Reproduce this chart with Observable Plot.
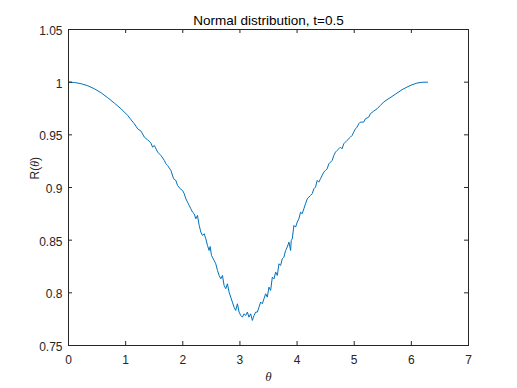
<!DOCTYPE html>
<html><head><meta charset="utf-8">
<script src="https://cdn.jsdelivr.net/npm/d3@7"></script>
<script src="https://cdn.jsdelivr.net/npm/@observablehq/plot@0.6"></script>
<style>html,body{margin:0;padding:0;background:#fff} svg{display:block}</style>
</head><body><div id="chart"></div>
<script>
const theta = [
  0, 0.105, 0.222, 0.338, 0.454, 0.571, 0.687, 0.803, 0.920, 1.036, 1.094, 1.152, 1.211, 1.269, 1.327, 1.385, 1.443, 1.472, 1.502, 1.560, 1.618, 1.676, 1.705, 1.734, 1.792,
  1.839, 1.879, 1.908, 1.955, 1.996, 2.025, 2.054, 2.083, 2.112, 2.141, 2.170, 2.199, 2.228, 2.257, 2.287, 2.316, 2.345, 2.374, 2.403, 2.432, 2.461, 2.479, 2.502, 2.548, 2.577, 2.607, 2.636, 2.665, 2.694, 2.723, 2.752, 2.781, 2.810, 2.839, 2.868, 2.897, 2.926, 2.956, 2.985, 3.014, 3.043, 3.072, 3.101, 3.130, 3.159, 3.188, 3.217, 3.247, 3.276, 3.305, 3.334, 3.363, 3.392, 3.421, 3.450, 3.479, 3.508, 3.537,
  3.567, 3.596, 3.625, 3.654, 3.683, 3.712, 3.741, 3.770, 3.799, 3.828, 3.858, 3.887, 3.898, 3.916, 3.945, 3.974, 4.003, 4.032, 4.061, 4.090, 4.119, 4.148, 4.178, 4.207, 4.236, 4.265, 4.294, 4.323, 4.352, 4.381, 4.410, 4.439, 4.468, 4.497, 4.527, 4.556, 4.585, 4.614,
  4.643, 4.672, 4.701, 4.730, 4.759, 4.788, 4.817, 4.875, 4.934, 4.963, 4.992, 5.021, 5.050, 5.079, 5.108, 5.166, 5.195, 5.254, 5.283, 5.341, 5.399, 5.457, 5.515, 5.574, 5.661, 5.748, 5.835, 5.923, 6.010, 6.097, 6.184, 6.283
];
const R = [
  1.000, 0.9997, 0.9985, 0.9966, 0.9937, 0.9899, 0.9852, 0.9801, 0.9747, 0.9684, 0.9643, 0.9605, 0.9557, 0.9535, 0.9478, 0.9453, 0.9421, 0.9383, 0.9399, 0.9336, 0.9304, 0.9257, 0.9225, 0.9209, 0.9162,
  0.9083, 0.9067, 0.9020, 0.8988, 0.8972, 0.8941, 0.8893, 0.8861, 0.8830, 0.8798, 0.8766, 0.8751, 0.8703, 0.8735, 0.8640, 0.8577, 0.8545, 0.8561, 0.8513, 0.8450, 0.8402, 0.8440, 0.8355, 0.8308, 0.8276, 0.8213, 0.8165, 0.8133, 0.8165, 0.8070, 0.8039, 0.8086, 0.8007, 0.7959, 0.7912, 0.7864, 0.7833, 0.7896, 0.7817, 0.7785, 0.7769, 0.7801, 0.7785, 0.7817, 0.7769, 0.7801, 0.7738, 0.7785, 0.7817, 0.7817, 0.7864, 0.7912, 0.7896, 0.7944, 0.7991, 0.7959, 0.8054, 0.8023,
  0.8149, 0.8133, 0.8197, 0.8165, 0.8276, 0.8260, 0.8323, 0.8339, 0.8402, 0.8434, 0.8482, 0.8402, 0.8497, 0.8513, 0.8640, 0.8624, 0.8672, 0.8703, 0.8766, 0.8751, 0.8798, 0.8846, 0.8893, 0.8909, 0.8925, 0.8941, 0.8988, 0.9004, 0.9067, 0.9051, 0.9083, 0.9115, 0.9146, 0.9162, 0.9178, 0.9225, 0.9241, 0.9257,
  0.9304, 0.9336, 0.9352, 0.9367, 0.9383, 0.9367, 0.9415, 0.9447, 0.9478, 0.9494, 0.9526, 0.9557, 0.9573, 0.9605, 0.9621, 0.9621, 0.9652, 0.9668, 0.9700, 0.9725, 0.9747, 0.9779, 0.9811, 0.9833, 0.9864, 0.9896, 0.9928, 0.9953, 0.9975, 0.9991, 0.9999, 1.0000
];
const xTicks = [0, 1, 2, 3, 4, 5, 6, 7];
const xTickLabels = ["0", "1", "2", "3", "4", "5", "6", "7"];
const yTicks = [0.75, 0.8, 0.85, 0.9, 0.95, 1, 1.05];
const yTickLabels = ["0.75", "0.8", "0.85", "0.9", "0.95", "1", "1.05"];
const titleText = "Normal distribution, t=0.5";
const xLabel = "θ";
const yLabel = "R(θ)";

const data = theta.map((t, i) => ({theta: t, R: R[i]}));
const W = 517, H = 388, mL = 68, mR = 49, mT = 29, mB = 43;
const innerW = W - mL - mR, innerH = H - mT - mB;
const tickLen = 4;
const axisColor = "#262626";
const font = "'Liberation Sans', Arial, Helvetica, sans-serif";

const chart = Plot.plot({
  width: W, height: H,
  marginLeft: mL, marginRight: mR, marginTop: mT, marginBottom: mB,
  style: {fontFamily: font, background: "white", color: axisColor, overflow: "visible"},
  x: {domain: [0, 7]},
  y: {domain: [0.75, 1.05]},
  marks: [
    Plot.line(data, {x: "theta", y: "R", stroke: "#0072BD", strokeWidth: 1}),
    Plot.frame({stroke: axisColor, strokeWidth: 1}),
    Plot.ruleX(xTicks, {x: d => d, insetTop: innerH - tickLen, stroke: axisColor}),
    Plot.ruleX(xTicks, {x: d => d, insetBottom: innerH - tickLen, stroke: axisColor}),
    Plot.ruleY(yTicks, {y: d => d, insetRight: innerW - tickLen, stroke: axisColor}),
    Plot.ruleY(yTicks, {y: d => d, insetLeft: innerW - tickLen, stroke: axisColor}),
    Plot.axisX(xTicks, {tickSize: 0, tickPadding: 10, fontSize: 12, fill: axisColor, label: null,
      tickFormat: d => xTickLabels[xTicks.indexOf(d)]}),
    Plot.axisY(yTicks, {tickSize: 0, tickPadding: 6, fontSize: 12, fill: axisColor, label: null, dy: 1.5,
      tickFormat: d => yTickLabels[yTicks.indexOf(d)]}),
    Plot.text([titleText], {text: d => d, frameAnchor: "top", dy: -5, lineAnchor: "bottom", fontSize: 13.5, fill: "#000"}),
    Plot.text([yLabel], {text: d => d, frameAnchor: "left", rotate: -90, dx: -29.5, dy: -8, lineAnchor: "bottom", fontSize: 12, fill: axisColor}),
    Plot.text([xLabel], {text: d => d, frameAnchor: "bottom", dy: 35, lineAnchor: "bottom", fontSize: 13, fontStyle: "italic", fontFamily: "'Liberation Serif', 'DejaVu Serif', serif", fill: axisColor})
  ]
});

// italicize theta inside the y label
chart.querySelectorAll("text").forEach(t => {
  if (t.textContent === yLabel) {
    t.textContent = "";
    const ns = "http://www.w3.org/2000/svg";
    const a = document.createElementNS(ns, "tspan"); a.textContent = "R(";
    const b = document.createElementNS(ns, "tspan"); b.textContent = "θ";
    b.setAttribute("font-style", "italic");
    b.setAttribute("font-family", "'Liberation Serif', 'DejaVu Serif', serif");
    const c = document.createElementNS(ns, "tspan"); c.textContent = ")";
    t.append(a, b, c);
  }
});
document.getElementById("chart").appendChild(chart);
</script>
</body></html>
